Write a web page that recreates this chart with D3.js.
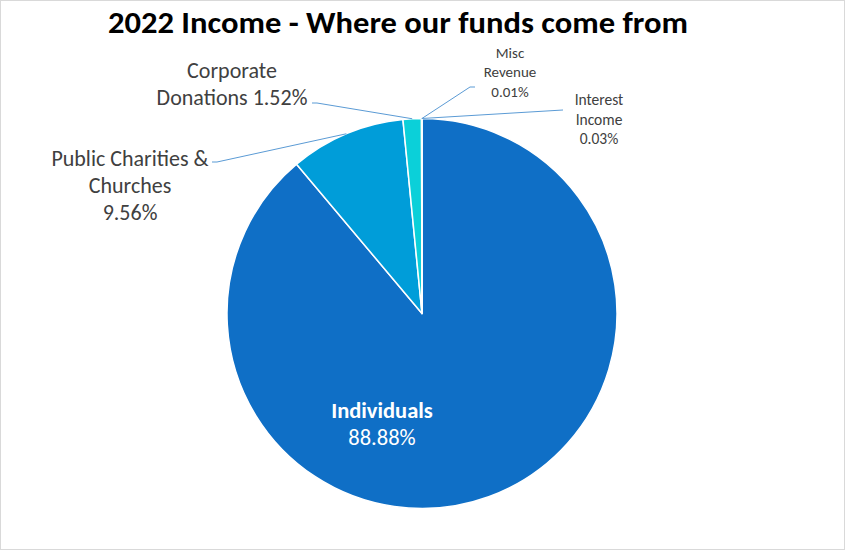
<!DOCTYPE html>
<html><head><meta charset="utf-8">
<script src="https://cdn.jsdelivr.net/npm/d3@7"></script>
<style>
body{margin:0;background:#fff;}
svg{display:block;}
text{font-family:Carlito,"Open Sans","Liberation Sans",sans-serif;}
</style></head>
<body><svg id="c" width="845" height="550"></svg>
<script>
const categories = ["Individuals","Public Charities & Churches","Corporate Donations","Interest Income","Misc Revenue"];
const values = [88.88, 9.56, 1.52, 0.03, 0.01];
const valueLabels = ["88.88%","9.56%","1.52%","0.03%","0.01%"];
const colors = ["#0F6FC6","#009DD9","#0BD0D9","#10CF9B","#7CCA62"];

const svg = d3.select("#c");
svg.append("rect").attr("x",0.5).attr("y",0.5).attr("width",844).attr("height",549)
  .attr("fill","#fff").attr("stroke","#d9d9d9");

svg.append("text").attr("x",398).attr("y",33).attr("text-anchor","middle")
  .attr("font-size",31).attr("font-weight","bold").attr("fill","#000")
  .attr("textLength",580).attr("lengthAdjust","spacingAndGlyphs")
  .text("2022 Income - Where our funds come from");

const cx = 422, cy = 313.5, R = 195;
const g = svg.append("g").attr("transform",`translate(${cx},${cy})`);
const pie = d3.pie().sort(null).value(d=>d.v);
const data = pie(categories.map((c,i)=>({c, v:values[i], l:valueLabels[i], col:colors[i]})));
const arc = d3.arc().innerRadius(0).outerRadius(R);
g.selectAll("path").data(data).join("path")
  .attr("d",arc).attr("fill",d=>d.data.col)
  .attr("stroke","#fff").attr("stroke-width",1.5).attr("stroke-linejoin","round");

function edge(d){ const a=(d.startAngle+d.endAngle)/2; return [cx+R*Math.sin(a), cy-R*Math.cos(a)]; }
const lineColor = "#5B9BD5";
const leaders = [
  {i:1, pts:[[212,162],[217,162]]},
  {i:2, pts:[[312,103],[317,103]]},
  {i:4, pts:[[475,87],[470,87]]},
  {i:3, pts:[[563,110]]}
];
leaders.forEach(L=>{
  const p = L.pts.concat([edge(data[L.i])]);
  svg.append("path").attr("d", d3.line()(p)).attr("fill","none")
    .attr("stroke",lineColor).attr("stroke-width",1);
});

function label(lines, x, y0, lh, size, fill, weights){
  const t = svg.append("text").attr("text-anchor","middle").attr("font-size",size).attr("fill",fill);
  lines.forEach((s,k)=>{
    t.append("tspan").attr("x",x).attr("y",y0+k*lh).attr("font-weight",weights?weights[k]:"normal").text(s);
  });
}
label(["Corporate","Donations "+valueLabels[2]], 232, 78, 27, 22, "#404040");
label(["Public Charities &","Churches",valueLabels[1]], 130, 166, 27, 22, "#404040");
label(["Misc","Revenue",valueLabels[4]], 510, 57.5, 19.5, 15, "#404040");
label(["Interest","Income",valueLabels[3]], 599, 105, 19.5, 15.5, "#404040");
label(["Individuals",valueLabels[0]], 382, 418, 27, 22.5, "#fff", ["bold","normal"]);
</script></body></html>
